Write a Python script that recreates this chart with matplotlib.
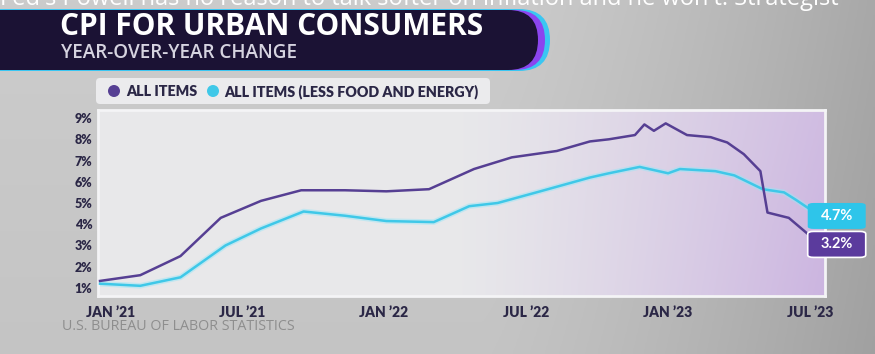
import numpy as np
import matplotlib
matplotlib.use("Agg")
from matplotlib import pyplot as plt
from matplotlib.patches import FancyBboxPatch, Circle
from matplotlib.transforms import ScaledTranslation

# values (x = months since Jan 2021)
purple_month = [0, 1.7, 3.4, 5.1, 6.8, 8.5, 10.35, 12.1, 13.9, 15.8, 17.4, 19.3, 20.7, 21.5,
                22.6, 23.0, 23.4, 23.9, 24.8, 25.8, 26.5, 27.2, 27.9, 28.2, 29.1, 30.0]
purple_pct = [1.33, 1.6, 2.5, 4.3, 5.1, 5.6, 5.6, 5.55, 5.65, 6.6, 7.15, 7.45, 7.9, 8.0,
              8.2, 8.7, 8.4, 8.75, 8.2, 8.1, 7.85, 7.3, 6.5, 4.55, 4.3, 3.45]
cyan_month = [0, 1.7, 3.4, 5.3, 6.8, 8.6, 10.35, 12.1, 14.1, 15.6, 16.8, 18.6, 20.7, 21.5,
              22.8, 24.0, 24.5, 26.0, 26.8, 28.0, 28.9, 29.4, 30.0]
cyan_pct = [1.2, 1.1, 1.5, 3.0, 3.8, 4.6, 4.4, 4.15, 4.1, 4.85, 5.0, 5.55, 6.2, 6.4,
            6.7, 6.4, 6.6, 6.5, 6.3, 5.65, 5.5, 5.15, 4.7]
x_ticks = [0, 6, 12, 18, 24, 30]
x_labels = ["JAN \u201921", "JUL \u201921", "JAN \u201922", "JUL \u201922", "JAN \u201923", "JUL \u201923"]
y_ticks = [1, 2, 3, 4, 5, 6, 7, 8, 9]
y_labels = [f"{v}%" for v in y_ticks]
end_labels = ["3.2%", "4.7%"]

PURPLE = "#563f93"
CYAN = "#3fc8e8"
NAVY = "#2b2746"

fig = plt.figure(figsize=(8.75, 3.54), dpi=100)

# background / decorations in pixel coordinates
bg = fig.add_axes([0, 0, 1, 1])
bg.set_xlim(0, 875)
bg.set_ylim(354, 0)
bg.axis("off")
xx = np.linspace(0, 1, 300)
yy = np.linspace(0, 1, 120)[:, None]
shade = 0.80 - 0.14 * np.clip((xx - 0.55) / 0.45, 0, 1) ** 1.3 - 0.03 * yy
img = np.dstack([shade, shade, shade])
bg.imshow(img, extent=(0, 875, 354, 0), aspect="auto", zorder=0)

# headline cut off at the top, as in the broadcast frame
bg.text(0, 5, "Fed's Powell has no reason to talk softer on inflation and he won't: Strategist",
        color="white", fontsize=17, family="Open Sans", va="baseline", ha="left", zorder=0.5)

# banner
bg.add_patch(FancyBboxPatch((-40, 9), 590, 62, boxstyle="round,pad=0,rounding_size=31",
                            fc="#3ac6f2", ec="none", zorder=1))
bg.add_patch(FancyBboxPatch((-40, 10), 585, 60, boxstyle="round,pad=0,rounding_size=30",
                            fc="#8b45ef", ec="none", zorder=1))
bg.add_patch(FancyBboxPatch((-40, 10), 578, 60, boxstyle="round,pad=0,rounding_size=30",
                            fc="#1b1234", ec="none", zorder=1))
bg.text(60, 35, "CPI FOR URBAN CONSUMERS", color="white", fontsize=21.5, weight="bold",
        family="Open Sans", va="baseline", ha="left", zorder=2)
bg.text(61, 58, "YEAR-OVER-YEAR CHANGE", color="#d6d4e0", fontsize=13.6, weight="semibold",
        family="Open Sans", va="baseline", ha="left", zorder=2)

# legend
bg.add_patch(FancyBboxPatch((96, 78), 394, 26, boxstyle="round,pad=0,rounding_size=4",
                            fc="#ebebed", ec="none", zorder=1))
bg.add_patch(Circle((114, 91), 6, fc=PURPLE, ec="none", zorder=2))
bg.text(126, 91.5, "ALL ITEMS", color=NAVY, fontsize=10.3, weight="heavy", family="Lato",
        va="center", ha="left", zorder=2)
bg.add_patch(Circle((213, 91), 6, fc=CYAN, ec="none", zorder=2))
bg.text(224, 91.5, "ALL ITEMS (LESS FOOD AND ENERGY)", color=NAVY, fontsize=10.3, weight="heavy",
        family="Lato", va="center", ha="left", zorder=2)

bg.text(62, 327, "U.S. BUREAU OF LABOR STATISTICS", color="#8e8e8e", fontsize=10.3,
        family="Open Sans", va="center", ha="left", zorder=2)

# chart area
ax = fig.add_axes([98 / 875, 1 - 296 / 354, 727 / 875, 186 / 354])
ax.set_xlim(-0.085, 30.63)
ax.set_ylim(0.62, 9.38)
gx = np.linspace(0, 1, 300)
gy = np.linspace(1, 0, 100)[:, None]
t = np.clip((gx - 0.5) / 0.5, 0, 1) ** 1.2 * (0.85 + 0.15 * (1 - gy))
light = np.array([0.91, 0.91, 0.92])
lav = np.array([0.80, 0.71, 0.88])
grad = light[None, None, :] * (1 - t[..., None]) + lav[None, None, :] * t[..., None]
ax.imshow(grad, extent=(0, 1, 0, 1), transform=ax.transAxes, aspect="auto", zorder=0)
for s in ax.spines.values():
    s.set_color("#f4f4f6")
    s.set_linewidth(2)

ax.plot(cyan_month, cyan_pct, color="#9be6f6", lw=4, alpha=0.5, solid_capstyle="round", zorder=2)
ax.plot(cyan_month, cyan_pct, color=CYAN, lw=1.8, zorder=3)
ax.plot(purple_month, purple_pct, color=PURPLE, lw=1.8, zorder=4)

ax.set_xticks(x_ticks)
ax.set_xticklabels(x_labels)
ax.set_yticks(y_ticks)
ax.set_yticklabels(y_labels)
ax.tick_params(length=0, colors=NAVY)
ax.tick_params(axis="x", pad=7)
ax.tick_params(axis="y", pad=4)
for lab in ax.get_xticklabels():
    lab.set_fontfamily("Lato")
    lab.set_fontweight("heavy")
    lab.set_fontsize(10)
for lab in ax.get_yticklabels():
    lab.set_fontfamily("Lato")
    lab.set_fontweight("heavy")
    lab.set_fontsize(9)

# first date label sits a little to the right, clear of the axis corner
first = ax.xaxis.get_major_ticks()[0].label1
first.set_transform(first.get_transform() + ScaledTranslation(0.11, 0, fig.dpi_scale_trans))

# end value tags
bw, bh = 58 / 23.67, 26 / 21.25
tags = [(4.39, end_labels[1], "#2ec5ea", "none"), (3.05, end_labels[0], "#5b3b9d", "white")]
for yc, txt, fc, ec in tags:
    ax.add_patch(FancyBboxPatch((29.9, yc - bh / 2), bw, bh,
                                boxstyle="round,pad=0,rounding_size=0.25",
                                mutation_aspect=bh / bw * 0.9,
                                fc=fc, ec=ec, lw=1.2, clip_on=False, zorder=6))
    ax.text(29.9 + bw / 2, yc, txt, color="white", fontsize=10.5, weight="bold",
            family="Lato", ha="center", va="center", clip_on=False, zorder=7)

fig.savefig("out.png", dpi=100)
